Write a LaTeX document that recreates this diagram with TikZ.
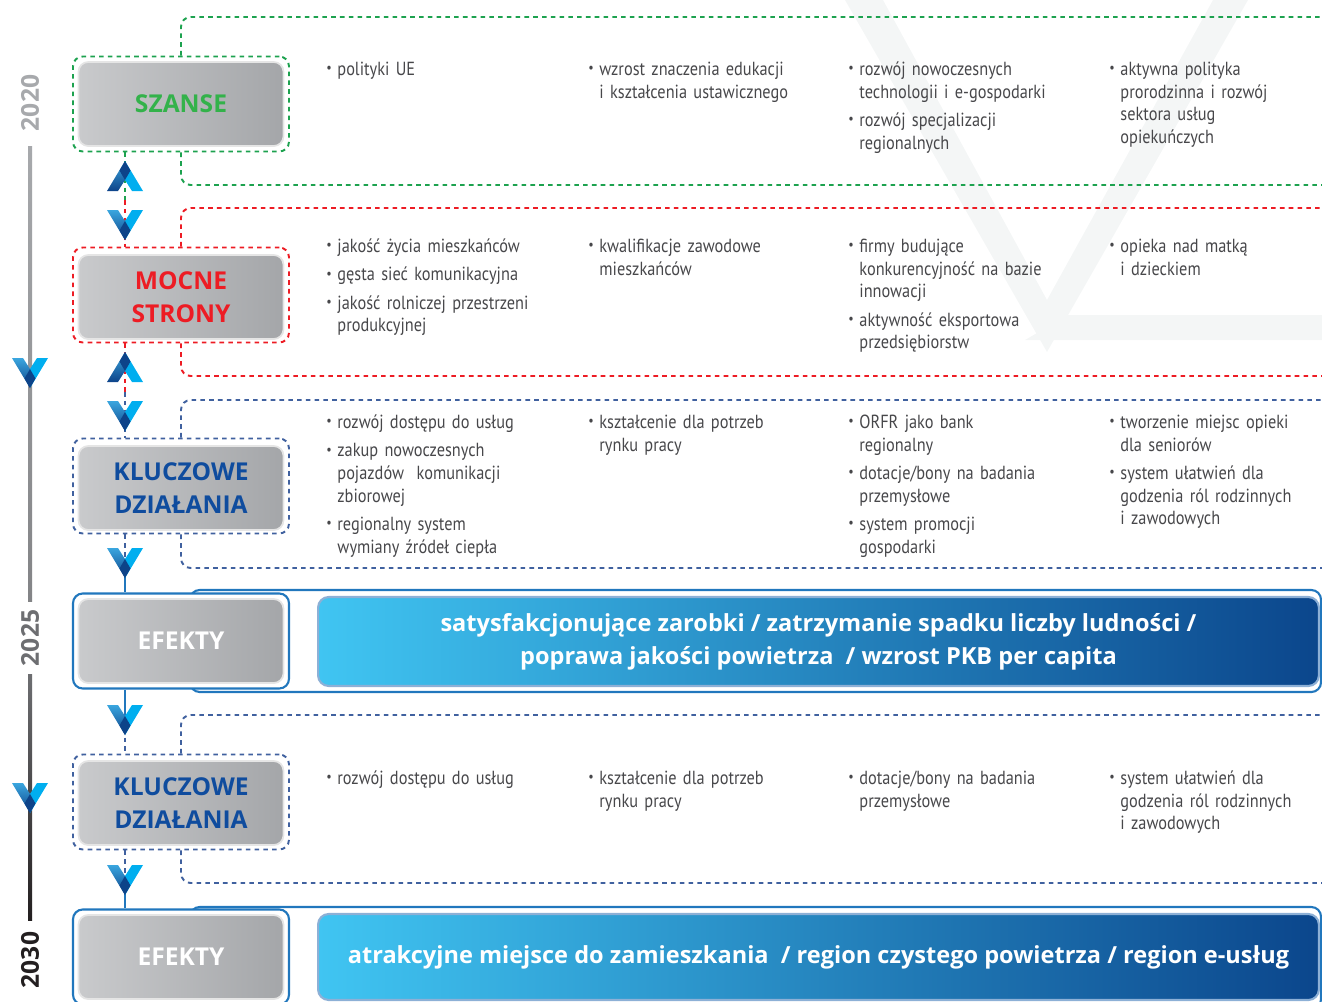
\documentclass[tikz,border=0pt]{standalone}
\usepackage{fontspec}
\setmainfont{PT Sans}[FakeStretch=0.86]
\newfontfamily\headfont{Open Sans}
\usetikzlibrary{calc}

\definecolor{szansegreen}{HTML}{33B24A}
\definecolor{dashgreen}{HTML}{1DA24F}
\definecolor{mocnered}{HTML}{ED1C24}
\definecolor{dashblue}{HTML}{40619F}
\definecolor{kluczblue}{HTML}{0F4C9E}
\definecolor{framblue}{HTML}{2177BD}
\definecolor{bordblue}{HTML}{8DB0D6}
\definecolor{txtgray}{HTML}{47474A}
\definecolor{boxlight}{HTML}{C9CACC}
\definecolor{boxdark}{HTML}{A4A6A9}
\definecolor{barlight}{HTML}{40C5F2}
\definecolor{barmid}{HTML}{2391CD}
\definecolor{bardark}{HTML}{0B468C}
\definecolor{chevlight}{HTML}{00AEEF}
\definecolor{chevmid}{HTML}{3AA6DF}
\definecolor{chevdark}{HTML}{0D4389}
\definecolor{markgray}{HTML}{F4F6F6}
\definecolor{yeartop}{HTML}{A7A9AC}
\definecolor{yearmid}{HTML}{6D6E71}
\definecolor{yearlow}{HTML}{231F20}

% bullet with hanging indent
\newcommand{\pkt}{\par\hangindent=6.3pt\hangafter=1\noindent\makebox[6.3pt][l]{\raisebox{0.3ex}{\fontsize{8}{8}\selectfont\textbullet}}}
\newcommand{\punkty}[1]{#1\par}

\tikzset{
  vmark/.pic={
    \shade[top color=chevmid, bottom color=chevdark] (-18,-15) -- (-7,-15) -- (0,-4) -- (0,15) -- cycle;
    \fill[chevlight] (0,-4) -- (7,-15) -- (18,-15) -- (0,15) -- cycle;
    \fill[chevdark] (0,-4) -- (5.5,5.5) -- (0,15) -- (-5.5,5.5) -- cycle;
  }
}

\begin{document}
\begin{tikzpicture}[x=0.02cm, y=-0.02cm, text=txtgray,
  font=\fontsize{10.8}{12.9}\selectfont,
  graybox/.style={draw=gray!20, line width=1pt, rounded corners=5.5pt,
    left color=boxlight, right color=boxdark, minimum width=4.1cm,
    minimum height=1.68cm, align=center, inner sep=0pt,
    font=\headfont\bfseries\fontsize{14}{18.7}\selectfont},
  outline/.style={line width=1.1pt, rounded corners=5.5pt,
    minimum width=4.32cm, minimum height=1.9cm, inner sep=0pt},
  dashes/.style={line width=1.1pt, dash pattern=on 2.6pt off 2.4pt},
  gdash/.style={dashes, draw=dashgreen},
  rdash/.style={dashes, draw=mocnered},
  bdash/.style={dashes, draw=dashblue},
  bline/.style={line width=1pt, draw=framblue},
  bar/.style={draw=bordblue, line width=1.2pt, rounded corners=6pt,
    left color=barlight, middle color=barmid, right color=bardark,
    minimum width=20.02cm, align=center, text=white,
    font=\headfont\bfseries\fontsize{13.4}{18.7}\selectfont},
  items/.style={anchor=north west, inner sep=0pt, text width=5.2cm,
    align=left, execute at begin node=\setlength{\parskip}{3.2pt}},
  year/.style={rotate=90, inner sep=0pt,
    font=\headfont\bfseries\fontsize{14}{16}\selectfont}]

\clip (0,0) rectangle (1322,1001);

% faint logo in the background
\fill[markgray] (845,0) -- (883,0) -- (1047,300) -- (1213,0) -- (1248,0) -- (1047,352) -- cycle;
\fill[markgray] (1068,315) -- (1330,315) -- (1330,340) -- (1025,340) -- cycle;

% timeline
\node[year, text=yeartop] (y2020) at (30,103) {2020};
\node[year, text=yearmid] (y2025) at (30,638) {2025};
\node[year, text=yearlow] (y2030) at (30,960) {2030};
\shade[top color=yeartop, bottom color=yearmid!85] ($(y2020.west)+(-2,15)$) rectangle ($(y2025.east)+(2,-8)$);
\shade[top color=yearmid, bottom color=yearlow] ($(y2025.west)+(-2,8)$) rectangle ($(y2030.east)+(2,-11)$);

% wide frames of the results
\draw[bline, line width=1.2pt, rounded corners=5.5pt] (190,590) rectangle (1321,692);
\draw[bline, line width=1.2pt, rounded corners=5.5pt] (190,907) rectangle (1321,1009);

% outlines and boxes
\node[outline, gdash] (szanseF) at (181,104) {};
\node[outline, rdash] (mocneF) at (181,295) {};
\node[outline, bdash] (kl1F) at (181,486) {};
\node[outline, bline, line width=1.2pt, fill=white] (ef1F) at (181,641) {};
\node[outline, bdash] (kl2F) at (181,802) {};
\node[outline, bline, line width=1.2pt, fill=white] (ef2F) at (181,957) {};

\node[graybox, text=szansegreen] (szanse) at (181,104) {SZANSE};
\node[graybox, text=mocnered] (mocne) at (181,297) {MOCNE\\STRONY};
\node[graybox, text=kluczblue] (kl1) at (181,488) {KLUCZOWE\\DZIAŁANIA};
\node[graybox, text=white] (ef1) at (181,641) {EFEKTY};
\node[graybox, text=kluczblue] (kl2) at (181,803) {KLUCZOWE\\DZIAŁANIA};
\node[graybox, text=white] (ef2) at (181,957) {EFEKTY};

% dashed brackets to the right edge
\foreach \frm/\col/\ytop/\ybot in {szanseF/gdash/17/185, mocneF/rdash/208/376, kl1F/bdash/400/568, kl2F/bdash/715/883} {
  \coordinate (\frm-top) at (1330,\ytop);
  \coordinate (\frm-bot) at (1330,\ybot);
  \draw[\col, rounded corners=5.5pt] (\frm.north) |- (\frm-top);
  \draw[\col, rounded corners=5.5pt] (\frm.south) |- (\frm-bot);
}

% result bars
\node[bar, minimum height=1.78cm] (bar1) at (818.5,641.5) {satysfakcjonujące zarobki / zatrzymanie spadku liczby ludności /\\poprawa jakości powietrza \ / wzrost PKB per capita};
\node[bar, minimum height=1.72cm] (bar2) at (818.5,957) {atrakcyjne miejsce do zamieszkania \ / region czystego powietrza / region e-usług};

% chevron points
\foreach \name/\ypos in {c1/176, s1/200, c2/225, c3/367, s2/392, c4/416, c5/563, c6/720, c7/880} {
  \coordinate (\name) at (125,\ypos);
}

\draw[gdash] (szanseF.south -| c1) -- (s1);
\draw[rdash] (s1) -- (mocneF.north -| c2);
\draw[rdash] (mocneF.south -| c3) -- (s2);
\draw[bdash] (s2) -- (kl1F.north -| c4);
\draw[bdash] (kl1F.south -| c5) -- (c5);
\draw[bline] (c5) -- (ef1F.north -| c5);
\draw[bline] (ef1F.south -| c6) -- (c6);
\draw[bdash] (c6) -- (kl2F.north -| c6);
\draw[bdash] (kl2F.south -| c7) -- (c7);
\draw[bline] (c7) -- (ef2F.north -| c7);

\foreach \name/\dir in {c1/-1, c2/1, c3/-1, c4/1, c5/1, c6/1, c7/1} {
  \pic[yscale=\dir] at (\name) {vmark};
}
\pic at (30,373) {vmark};
\pic at (30,798) {vmark};

% SZANSE
\node[items] (sz1) at (326,47) {\punkty{\pkt polityki UE}};
\node[items] (sz2) at (588,47) {\punkty{\pkt wzrost znaczenia edukacji\newline i kształcenia ustawicznego}};
\node[items] (sz3) at (848,47) {\punkty{\pkt rozwój nowoczesnych\newline technologii i e-gospodarki\pkt rozwój specjalizacji\newline regionalnych}};
\node[items] (sz4) at (1109,47) {\punkty{\pkt aktywna polityka\newline prorodzinna i rozwój\newline sektora usług\newline opiekuńczych}};

% MOCNE STRONY
\node[items] (mo1) at (326,224) {\punkty{\pkt jakość życia mieszkańców\pkt gęsta sieć komunikacyjna\pkt jakość rolniczej przestrzeni\newline produkcyjnej}};
\node[items] (mo2) at (588,224) {\punkty{\pkt kwalifikacje zawodowe\newline mieszkańców}};
\node[items] (mo3) at (848,224) {\punkty{\pkt firmy budujące\newline konkurencyjność na bazie\newline innowacji\pkt aktywność eksportowa\newline przedsiębiorstw}};
\node[items] (mo4) at (1109,224) {\punkty{\pkt opieka nad matką\newline i dzieckiem}};

% KLUCZOWE DZIALANIA 1
\node[items] (ka1) at (326,400) {\punkty{\pkt rozwój dostępu do usług\pkt zakup nowoczesnych\newline pojazdów \ komunikacji\newline zbiorowej\pkt regionalny system\newline wymiany źródeł ciepła}};
\node[items] (ka2) at (588,400) {\punkty{\pkt kształcenie dla potrzeb\newline rynku pracy}};
\node[items] (ka3) at (848,400) {\punkty{\pkt ORFR jako bank\newline regionalny\pkt dotacje/bony na badania\newline przemysłowe\pkt system promocji\newline gospodarki}};
\node[items] (ka4) at (1109,400) {\punkty{\pkt tworzenie miejsc opieki\newline dla seniorów\pkt system ułatwień dla\newline godzenia ról rodzinnych\newline i zawodowych}};

% KLUCZOWE DZIALANIA 2
\node[items] (kb1) at (326,756) {\punkty{\pkt rozwój dostępu do usług}};
\node[items] (kb2) at (588,756) {\punkty{\pkt kształcenie dla potrzeb\newline rynku pracy}};
\node[items] (kb3) at (848,756) {\punkty{\pkt dotacje/bony na badania\newline przemysłowe}};
\node[items] (kb4) at (1109,756) {\punkty{\pkt system ułatwień dla\newline godzenia ról rodzinnych\newline i zawodowych}};

\end{tikzpicture}
\end{document}
